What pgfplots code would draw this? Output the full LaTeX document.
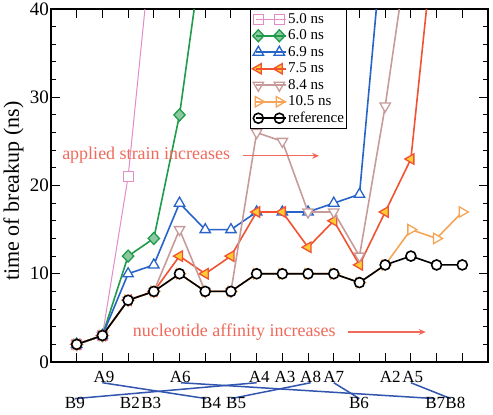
\documentclass[border=0pt]{standalone}
\usepackage{pgfplots}
\pgfplotsset{compat=1.18}
\usepackage{fontspec}
\setmainfont{Liberation Serif}
\usetikzlibrary{arrows.meta}
\definecolor{cpink}{RGB}{228,140,200}
\definecolor{cgreen}{RGB}{30,155,75}
\definecolor{cgreenf}{RGB}{140,200,160}
\definecolor{cblue}{RGB}{40,100,200}
\definecolor{cred}{RGB}{240,82,50}
\definecolor{cyel}{RGB}{255,205,50}
\definecolor{crosy}{RGB}{200,155,155}
\definecolor{corange}{RGB}{245,165,85}
\definecolor{csalmon}{RGB}{240,105,90}
\definecolor{clink}{RGB}{50,85,175}
\begin{document}
\begin{tikzpicture}
\begin{axis}[name=ax, scale only axis, width=437pt, height=353pt,
 xmin=0, xmax=17, ymin=0, ymax=40,
 xtick={1,...,16}, xticklabels={},
 ytick={0,10,20,30,40}, minor y tick num=4,
 tick align=inside, major tick length=9pt, minor tick length=5pt,
 every tick/.style={black, line width=1pt},
 axis line style={line width=1.3pt},
 /pgf/number format/assume math mode=true,
 yticklabel style={font=\fontsize{19}{19}\selectfont, inner xsep=2pt},
 ylabel={time of breakup (ns)},
 ylabel style={font=\fontsize{22}{22}\selectfont, at={(axis description cs:-0.086,0.484)}, anchor=center},
 clip mode=individual, clip marker paths=true,
 legend style={at={(0.455,1)}, anchor=north west, draw=black, line width=1pt,
   font=\fontsize{15}{15}\selectfont, inner sep=2pt, row sep=1pt,
   nodes={inner sep=1pt, text height=10.5pt, text depth=3pt}, cells={anchor=west}},
 legend image code/.code={\draw[#1] plot coordinates {(2pt,0pt) (23pt,0pt)};
   \path (0pt,0pt) -- (30pt,0pt);},
]
\addplot[cpink, line width=1pt, mark=square*, mark size=5pt, mark options={fill=white, line width=1pt}]
 coordinates {(1,2)(2,3)(3,21)(4,50)};
\addlegendentry{5.0 ns}
\addplot[cgreen, line width=1.6pt, mark=diamond*, mark size=6pt, mark options={fill=cgreenf, line width=1.3pt, xscale=1.25}]
 coordinates {(1,2)(2,3)(3,12)(4,14)(5,28)(6,49)};
\addlegendentry{6.0 ns}
\addplot[cblue, line width=1.6pt, mark=triangle*, mark size=6pt, mark options={fill=white, line width=1.3pt}]
 coordinates {(1,2)(2,3)(3,10)(4,11)(5,18)(6,15)(7,15)(8,17)(9,17)(10,17)(11,18)(12,19)(13,51)};
\addlegendentry{6.9 ns}
\addplot[cred, line width=1.6pt, mark=triangle*, mark size=6pt, mark options={fill=cyel, rotate=90, line width=1.3pt}]
 coordinates {(1,2)(2,3)(3,7)(4,8)(5,12)(6,10)(7,12)(8,17)(9,17)(10,13)(11,16)(12,11)(13,17)(14,23)(15,51)};
\addlegendentry{7.5 ns}
\addplot[crosy, line width=1.6pt, mark=triangle*, mark size=6pt, mark options={fill=white, rotate=180, line width=1.3pt}]
 coordinates {(1,2)(2,3)(3,7)(4,8)(5,15)(6,8)(7,8)(8,26)(9,25)(10,17)(11,17)(12,12)(13,29)(14,49)};
\addlegendentry{8.4 ns}
\addplot[corange, line width=1.6pt, mark=triangle*, mark size=6pt, mark options={fill=white, rotate=-90, line width=1.3pt}]
 coordinates {(1,2)(2,3)(3,7)(4,8)(5,10)(6,8)(7,8)(8,10)(9,10)(10,10)(11,10)(12,9)(13,11)(14,15)(15,14)(16,17)};
\addlegendentry{10.5 ns}
\addplot[black, line width=1.6pt, mark=*, mark size=5pt, mark options={fill=white, line width=1.6pt}]
 coordinates {(1,2)(2,3)(3,7)(4,8)(5,10)(6,8)(7,8)(8,10)(9,10)(10,10)(11,10)(12,9)(13,11)(14,12)(15,11)(16,11)};
\addlegendentry{reference}

\node[anchor=west, inner sep=0pt, text=csalmon, font=\fontsize{18}{18}\selectfont] at (axis cs:0.43,23.4) {applied strain increases};
\draw[csalmon, line width=1.2pt, -{Stealth[length=7pt,width=6pt]}] (axis cs:7.45,23.36) -- (axis cs:10.43,23.36);
\node[anchor=west, inner sep=0pt, text=csalmon, font=\fontsize{18}{18}\selectfont] at (axis cs:3.18,3.43) {nucleotide affinity increases};
\draw[csalmon, line width=1.2pt, -{Stealth[length=7pt,width=6pt]}] (axis cs:11.55,3.4) -- (axis cs:14.58,3.4);

\draw[clink, line width=1.5pt] (axis cs:2,-2.35) -- (axis cs:6.04,-4.15);
\draw[clink, line width=1.5pt] (axis cs:5.05,-2.35) -- (axis cs:14.95,-4.15);
\draw[clink, line width=1.5pt] (axis cs:8,-2.35) -- (axis cs:0.93,-4.15);
\draw[clink, line width=1.5pt] (axis cs:10.1,-2.35) -- (axis cs:7,-4.15);
\draw[clink, line width=1.5pt] (axis cs:11,-2.35) -- (axis cs:12,-4.15);
\draw[clink, line width=1.5pt] (axis cs:14,-2.35) -- (axis cs:15.55,-4.15);

\begin{scope}[every node/.style={anchor=base, inner sep=0pt, font=\fontsize{17}{17}\selectfont}]
\node at (axis cs:2.06,-2.33) {A9};
\node at (axis cs:5.03,-2.33) {A6};
\node at (axis cs:8.1,-2.33) {A4};
\node at (axis cs:9.1,-2.33) {A3};
\node at (axis cs:10.1,-2.33) {A8};
\node at (axis cs:11.0,-2.33) {A7};
\node at (axis cs:13.2,-2.33) {A2};
\node at (axis cs:14.07,-2.33) {A5};
\node at (axis cs:0.93,-5.3) {B9};
\node at (axis cs:3.07,-5.3) {B2};
\node at (axis cs:3.9,-5.3) {B3};
\node at (axis cs:6.23,-5.3) {B4};
\node at (axis cs:7.2,-5.3) {B5};
\node at (axis cs:11.98,-5.3) {B6};
\node at (axis cs:14.95,-5.3) {B7};
\node at (axis cs:15.73,-5.3) {B8};
\end{scope}
\end{axis}
\pgfresetboundingbox
\path[use as bounding box] ([shift={(-51pt,-53pt)}]ax.south west) rectangle ([shift={(5pt,9pt)}]ax.north east);
\end{tikzpicture}
\end{document}
